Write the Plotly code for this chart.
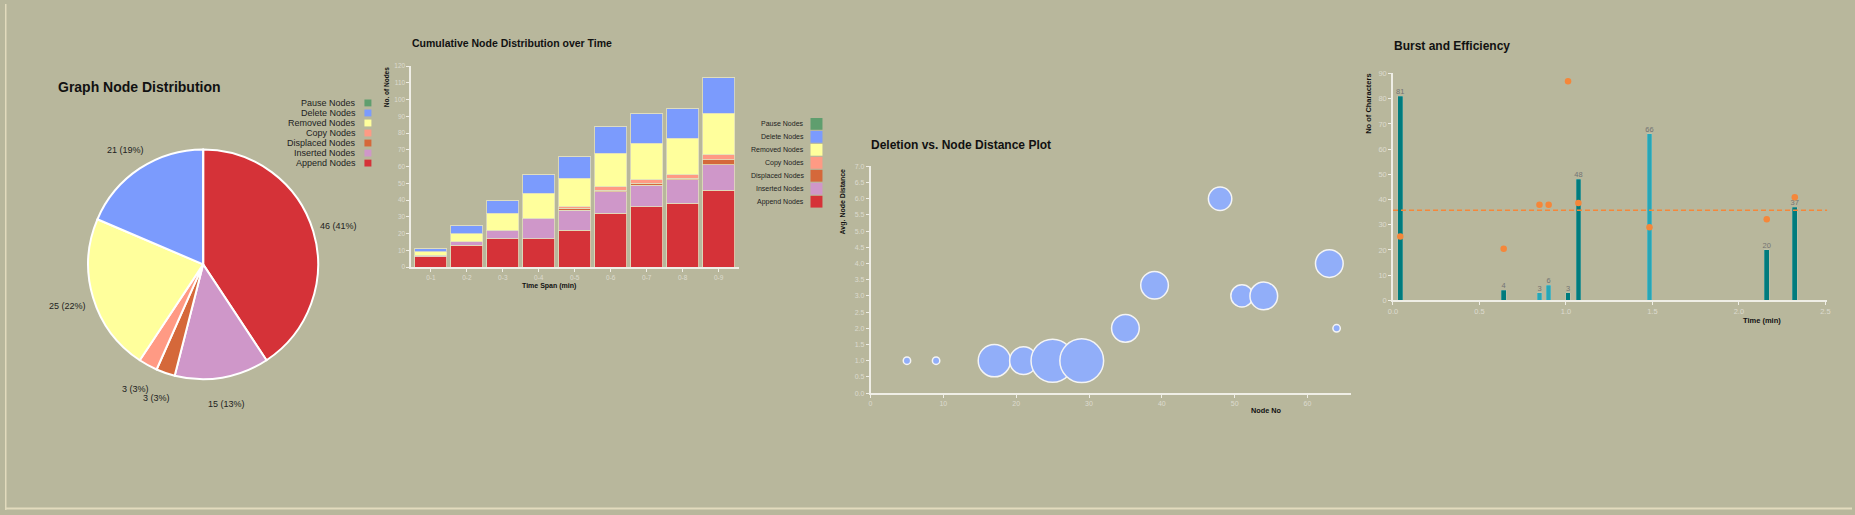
import math
import plotly.graph_objects as go

W, H = 1855, 515
FONT = "Liberation Sans, Arial, sans-serif"
BG = "#b8b79c"
AXIS = "#efeee6"
TICK = "#dddbcf"

# ---------------- data ----------------
node_types = ["Pause Nodes", "Delete Nodes", "Removed Nodes", "Copy Nodes",
              "Displaced Nodes", "Inserted Nodes", "Append Nodes"]
node_colors = ["#5f9e6e", "#7b9bfd", "#ffff9c", "#ff9a84", "#d5683a", "#cf97c9", "#d53238"]

# pie (clockwise from 12 o'clock)
pie_labels = ["Append Nodes", "Inserted Nodes", "Displaced Nodes", "Copy Nodes",
              "Removed Nodes", "Delete Nodes", "Pause Nodes"]
pie_values = [46, 15, 3, 3, 25, 21, 0]

# cumulative stacked bars
time_spans = ["0-1", "0-2", "0-3", "0-4", "0-5", "0-6", "0-7", "0-8", "0-9"]
append_nodes = [6, 13, 17, 17, 22, 32, 36, 38, 46]
inserted_nodes = [1, 2, 5, 12, 12, 13, 13, 14, 15]
displaced_nodes = [0, 0, 0, 0, 1, 1, 1, 1, 3]
copy_nodes = [0, 0, 0, 0, 1, 2, 2, 2, 3]
removed_nodes = [2, 5, 10, 15, 17, 20, 22, 22, 25]
delete_nodes = [2, 5, 8, 11, 13, 16, 18, 18, 21]
pause_nodes = [0, 0, 0, 0, 0, 0, 0, 0, 0]

# deletion vs node distance
node_no = [5, 9, 17, 21, 25, 29, 35, 39, 48, 51, 54, 63, 64]
avg_node_distance = [1.0, 1.0, 1.0, 1.0, 1.0, 1.0, 2.0, 3.33, 6.0, 3.0, 3.0, 4.0, 2.0]
deletions = [1, 1, 19, 14, 34, 35, 14, 14, 10, 9, 14, 14, 1]

# burst and efficiency
burst_time = [0.042, 0.64, 0.847, 0.90, 1.012, 1.072, 1.483, 2.161, 2.323]
burst_chars = [81, 4, 3, 6, 3, 48, 66, 20, 37]
burst_kind = ["P", "P", "R", "R", "P", "P", "R", "P", "P"]
efficiency = [25.3, 20.5, 37.9, 37.9, 86.9, 38.6, 29.0, 32.2, 40.9]
efficiency_avg = 35.8

kind_colors = {"P": "#007b7d", "R": "#27a6b6"}

# ---------------- helpers ----------------
def px(x):
    return x / W


def py(y):
    return 1 - y / H


fig = go.Figure()

# ---------------- pie ----------------
PIE_CX, PIE_CY, PIE_R = 199, 265, 117
fig.add_trace(go.Pie(
    labels=pie_labels, values=pie_values, sort=False, direction="clockwise", rotation=0,
    marker=dict(colors=[node_colors[node_types.index(l)] for l in pie_labels],
                line=dict(color="white", width=2)),
    textinfo="none",
    domain=dict(x=[px(PIE_CX - PIE_R), px(PIE_CX + PIE_R)],
                y=[py(PIE_CY + PIE_R), py(PIE_CY - PIE_R)]),
    showlegend=False, hoverinfo="label+value+percent",
))

# ---------------- stacked bars ----------------
stack_series = [
    ("Append Nodes", append_nodes), ("Inserted Nodes", inserted_nodes),
    ("Displaced Nodes", displaced_nodes), ("Copy Nodes", copy_nodes),
    ("Removed Nodes", removed_nodes), ("Delete Nodes", delete_nodes),
    ("Pause Nodes", pause_nodes),
]
for name, vals in stack_series:
    fig.add_trace(go.Bar(
        x=time_spans, y=vals, name=name, xaxis="x", yaxis="y",
        marker=dict(color=node_colors[node_types.index(name)],
                    line=dict(color="rgba(225,222,190,0.8)", width=1)),
        showlegend=False,
    ))

# ---------------- bubbles ----------------
r_small = 3.7
fig.add_trace(go.Scatter(
    x=node_no, y=avg_node_distance, mode="markers", xaxis="x2", yaxis="y2",
    marker=dict(size=deletions, sizemode="area", sizeref=1 / (2 * r_small ** 2),
                color="#91aef9", line=dict(color="#f4f4f4", width=1.5), opacity=1),
    showlegend=False, cliponaxis=False,
))

# ---------------- burst ----------------
fig.add_trace(go.Bar(
    x=burst_time, y=burst_chars, xaxis="x3", yaxis="y3", width=0.027,
    marker=dict(color=[kind_colors[k] for k in burst_kind],
                line=dict(color="rgba(200,220,210,0.5)", width=0.5)),
    text=[str(v) for v in burst_chars], textposition="outside", constraintext="none",
    textfont=dict(family=FONT, size=7.5, color="#747474"), cliponaxis=False,
    showlegend=False,
))
fig.add_trace(go.Scatter(
    x=burst_time, y=efficiency, mode="markers", xaxis="x3", yaxis="y3",
    marker=dict(size=6.5, color="#f5873a"), showlegend=False, cliponaxis=False,
))
fig.add_shape(type="line", xref="x3 domain", yref="y3", x0=0, x1=1,
              y0=efficiency_avg, y1=efficiency_avg,
              line=dict(color="#f5873a", width=1.5, dash="5px,3px"))

# ---------------- axes ----------------
def axis(domain, rng, size, **kw):
    d = dict(domain=domain, range=rng, showgrid=False, zeroline=False,
             showline=True, linecolor=AXIS, linewidth=1.5,
             ticks="outside", ticklen=3, tickcolor=AXIS, tickwidth=1,
             tickfont=dict(family=FONT, size=size, color=TICK), fixedrange=True)
    d.update(kw)
    return d


layout = dict(
    width=W, height=H, margin=dict(l=0, r=0, t=0, b=0),
    paper_bgcolor=BG, plot_bgcolor="rgba(0,0,0,0)",
    font=dict(family=FONT), barmode="stack", bargap=0.114, showlegend=False,
    xaxis=axis([px(408), px(737)], [-0.545, 8.56], 6.5, type="category", anchor="y"),
    yaxis=axis([py(267.7), py(63.3)], [0, 120], 6.5, dtick=10, anchor="x"),
    xaxis2=axis([px(869.3), px(1352)], [0, 66], 7, dtick=10, anchor="y2"),
    yaxis2=axis([py(396), py(165.3)], [0, 7], 7, dtick=0.5, tickformat=".1f", anchor="x2"),
    xaxis3=axis([px(1394), px(1830)], [0, 2.51], 7.5, dtick=0.5, tickformat=".1f", anchor="y3"),
    yaxis3=axis([py(301.7), py(70.7)], [0, 90], 7.5, dtick=10, anchor="x3"),
)
fig.update_layout(**layout)

ann = []


def text(x, y, s, size, bold=False, xanchor="left", yanchor="middle", angle=0, color="#111111"):
    ann.append(dict(x=px(x), y=py(y), xref="paper", yref="paper", text=f"<b>{s}</b>" if bold else s,
                    showarrow=False, xanchor=xanchor, yanchor=yanchor, textangle=angle,
                    borderpad=0, font=dict(family=FONT, size=size, color=color)))


# pie labels: centred on the mid-angle of each slice, just outside the rim
total = sum(pie_values)
cum = 0
LABEL_R = PIE_R + 25
for v in pie_values:
    mid = (cum + v / 2) / total * 2 * math.pi
    cum += v
    if v == 0:
        continue
    lx = PIE_CX + LABEL_R * math.sin(mid)
    ly = PIE_CY - LABEL_R * math.cos(mid) + 2
    text(lx, ly, f"{v} ({round(100 * v / total)}%)", 9, xanchor="center", color="#222222")

# titles
text(52, 84, "Graph Node Distribution", 14, True)
text(408, 40, "Cumulative Node Distribution over Time", 10.5, True)
text(869, 143, "Deletion vs. Node Distance Plot", 12, True)
text(1394, 43, "Burst and Efficiency", 12, True)

# axis titles
text(546.5, 287, "Time Span (min)", 7, True, xanchor="center")
text(384, 63, "No. of Nodes", 6.5, True, xanchor="center", yanchor="top", angle=-90)
text(1267, 414, "Node No", 7.3, True, xanchor="center")
text(842, 166, "Avg. Node Distance", 7, True, xanchor="center", yanchor="top", angle=-90)
text(1765, 322, "Time (min)", 7.5, True, xanchor="center")
text(1370, 70, "No of Characters", 7.5, True, xanchor="center", yanchor="top", angle=-90)

shapes = []
# pie legend
for i, name in enumerate(node_types):
    yc = 100.7 + 10.2 * i
    text(354, yc, name, 9, xanchor="right", color="#222222")
    shapes.append(dict(type="rect", xref="paper", yref="paper", x0=px(361), x1=px(368),
                       y0=py(yc + 3.5), y1=py(yc - 3.5), fillcolor=node_colors[i],
                       line=dict(width=0)))
# stacked legend
for i, name in enumerate(node_types):
    yc = 122 + 13.2 * i
    text(803, yc, name, 7, xanchor="right", color="#222222")
    shapes.append(dict(type="rect", xref="paper", yref="paper", x0=px(809), x1=px(821),
                       y0=py(yc + 6), y1=py(yc - 6), fillcolor=node_colors[i],
                       line=dict(width=0)))
# page border (left and bottom)
shapes.append(dict(type="line", xref="paper", yref="paper", x0=0.0004, x1=0.0004, y0=0, y1=1,
                   line=dict(color="#e2dbbd", width=1.5)))
shapes.append(dict(type="line", xref="paper", yref="paper", x0=0, x1=1, y0=py(513.5), y1=py(513.5),
                   line=dict(color="#e2dbbd", width=2)))

fig.update_layout(annotations=ann)
for s in shapes:
    fig.add_shape(**s)

fig.write_html("out.html", config={"displayModeBar": False},
               post_script="document.body.style.margin='0';document.body.style.overflow='hidden';")
